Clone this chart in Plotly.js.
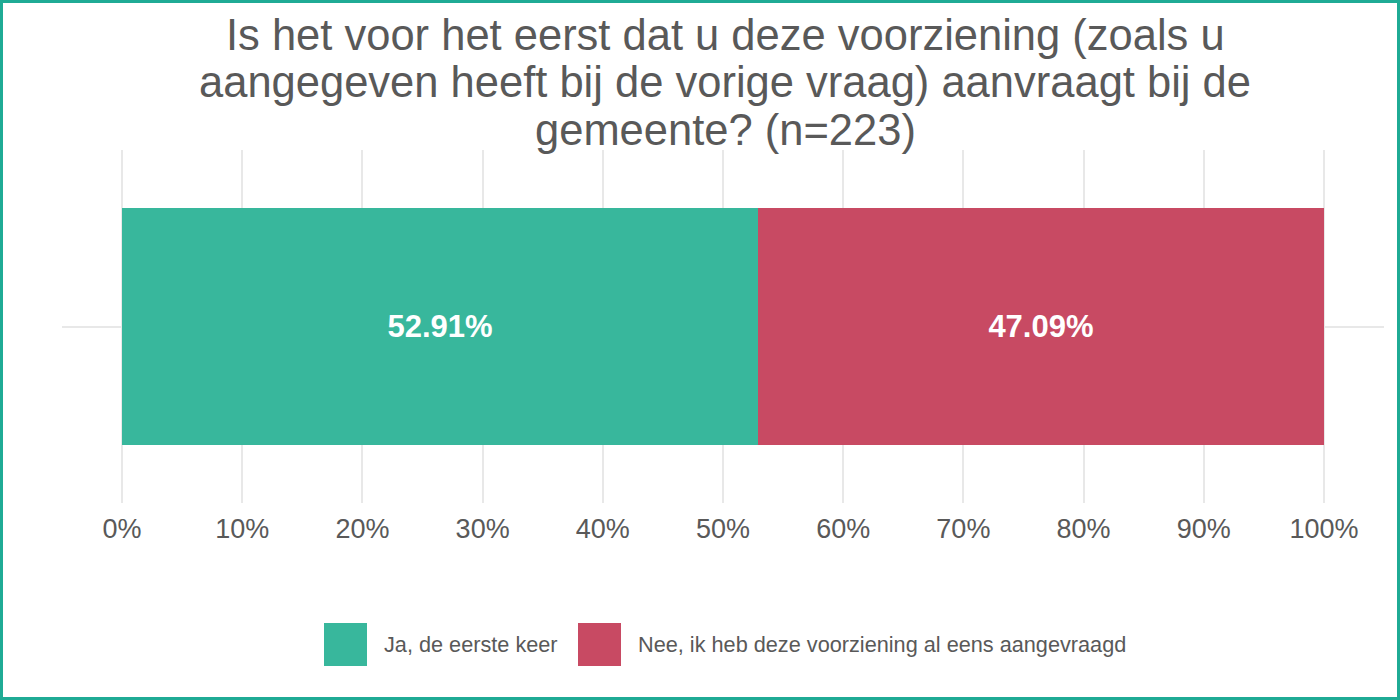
<!DOCTYPE html>
<html>
<head>
<meta charset="utf-8">
<script src="https://cdn.plot.ly/plotly-3.0.1.min.js"></script>
<style>
  html, body { margin: 0; padding: 0; background: #ffffff; }
  #wrap { position: relative; width: 1400px; height: 700px; }
  #chart { width: 1400px; height: 700px; }
  #frame { position: absolute; left: 0; top: 0; width: 1400px; height: 700px; box-sizing: border-box; border: 3px solid #1fab95; pointer-events: none; }
</style>
</head>
<body>
<div id="wrap"><div id="chart"></div><div id="frame"></div></div>
<script>
const titleLines = [
  "Is het voor het eerst dat u deze voorziening (zoals u",
  "aangegeven heeft bij de vorige vraag) aanvraagt bij de",
  "gemeente? (n=223)"
];
const category = ["Q"];
const seriesNames = ["Ja, de eerste keer", "Nee, ik heb deze voorziening al eens aangevraagd"];
const seriesValues = [52.91, 47.09];
const seriesColors = ["#38b79c", "#c84a63"];
const tickValues = [0, 10, 20, 30, 40, 50, 60, 70, 80, 90, 100];
const tickLabels = ["0%", "10%", "20%", "30%", "40%", "50%", "60%", "70%", "80%", "90%", "100%"];

const FONT = "Liberation Sans, Arial, sans-serif";
const GREY = "#595959";

const traces = seriesNames.map((name, i) => ({
  type: "bar",
  orientation: "h",
  name: name,
  y: category,
  x: [seriesValues[i]],
  marker: { color: seriesColors[i], line: { width: 0 } },
  texttemplate: "%{x:.2f}%",
  textposition: "inside",
  insidetextanchor: "middle",
  textfont: { family: FONT, size: 31, color: "#ffffff", weight: "bold" },
  hoverinfo: "skip",
  showlegend: false
}));

const pxToPaperX = px => (px - 62) / 1322;
const pxToPaperY = py => (503 - py) / 353;

const shapes = [];
const annotations = [];

// Title, one annotation per line (tight line spacing as in the reference)
const titleCenters = [35, 82, 129.5];
titleLines.forEach((line, i) => {
  annotations.push({
    xref: "paper", yref: "paper",
    x: pxToPaperX(725), y: pxToPaperY(titleCenters[i]),
    xanchor: "center", yanchor: "middle",
    text: line, showarrow: false,
    font: { family: FONT, size: 43.5, color: GREY }
  });
});

// Legend built from the series (big square swatches)
const legendCenter = 644.5;
const swatchLefts = [324, 578];
seriesNames.forEach((name, i) => {
  shapes.push({
    type: "rect", xref: "paper", yref: "paper",
    x0: pxToPaperX(swatchLefts[i]), x1: pxToPaperX(swatchLefts[i] + 43),
    y0: pxToPaperY(legendCenter + 21.5), y1: pxToPaperY(legendCenter - 21.5),
    fillcolor: seriesColors[i], line: { width: 0 }
  });
  annotations.push({
    xref: "paper", yref: "paper",
    x: pxToPaperX(swatchLefts[i] + 58), y: pxToPaperY(legendCenter),
    xanchor: "left", yanchor: "middle",
    text: name, showarrow: false,
    font: { family: FONT, size: 21.7, color: GREY }
  });
});

const layout = {
  width: 1400,
  height: 700,
  paper_bgcolor: "#ffffff",
  plot_bgcolor: "#ffffff",
  margin: { l: 62, r: 16, t: 150, b: 197, pad: 0 },
  barmode: "stack",
  bargap: 0.33,
  xaxis: {
    range: [-5, 105],
    tickvals: tickValues,
    ticktext: tickLabels,
    showgrid: true,
    gridcolor: "#e8e8e8",
    gridwidth: 2,
    zeroline: false,
    showline: false,
    ticks: "",
    ticklabelstandoff: 7,
    tickfont: { family: FONT, size: 27, color: GREY },
    fixedrange: true
  },
  yaxis: {
    showticklabels: false,
    showgrid: true,
    gridcolor: "#e8e8e8",
    gridwidth: 2,
    zeroline: false,
    showline: false,
    ticks: "",
    fixedrange: true
  },
  shapes: shapes,
  annotations: annotations,
  showlegend: false,
  font: { family: FONT, color: GREY }
};

Plotly.newPlot("chart", traces, layout, { displayModeBar: false, staticPlot: true });
</script>
</body>
</html>
